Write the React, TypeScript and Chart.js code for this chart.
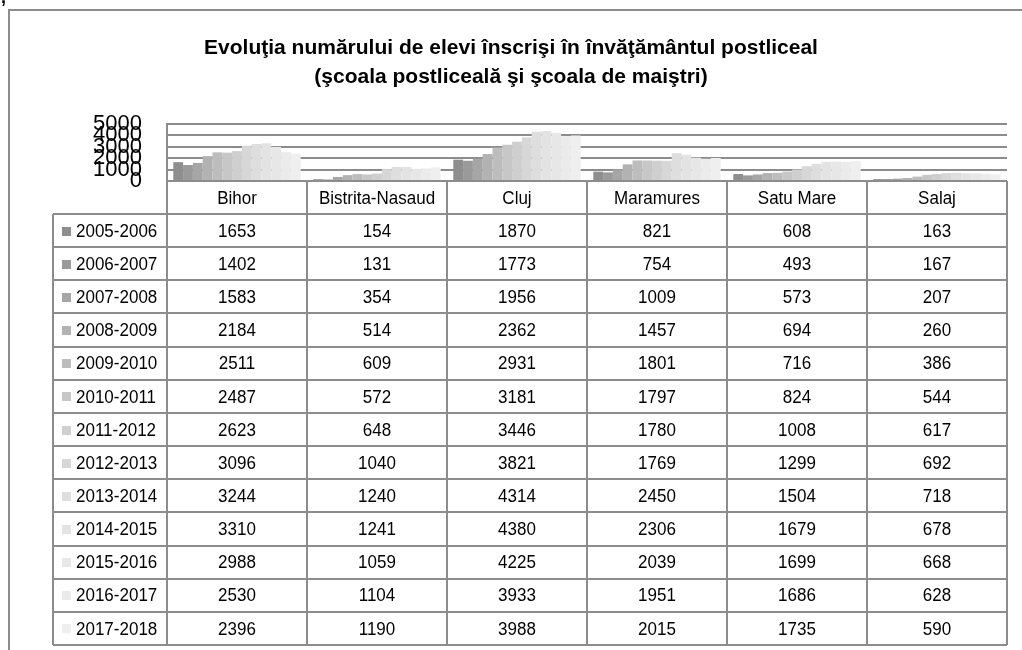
import React, { useEffect, useRef } from "react";
import { Chart, registerables } from "chart.js";

Chart.register(...registerables);

const categories = ["Bihor", "Bistrita-Nasaud", "Cluj", "Maramures", "Satu Mare", "Salaj"];
const years = [
  "2005-2006", "2006-2007", "2007-2008", "2008-2009", "2009-2010", "2010-2011",
  "2011-2012", "2012-2013", "2013-2014", "2014-2015", "2015-2016", "2016-2017", "2017-2018",
];

const v2005 = [1653, 154, 1870, 821, 608, 163];
const v2006 = [1402, 131, 1773, 754, 493, 167];
const v2007 = [1583, 354, 1956, 1009, 573, 207];
const v2008 = [2184, 514, 2362, 1457, 694, 260];
const v2009 = [2511, 609, 2931, 1801, 716, 386];
const v2010 = [2487, 572, 3181, 1797, 824, 544];
const v2011 = [2623, 648, 3446, 1780, 1008, 617];
const v2012 = [3096, 1040, 3821, 1769, 1299, 692];
const v2013 = [3244, 1240, 4314, 2450, 1504, 718];
const v2014 = [3310, 1241, 4380, 2306, 1679, 678];
const v2015 = [2988, 1059, 4225, 2039, 1699, 668];
const v2016 = [2530, 1104, 3933, 1951, 1686, 628];
const v2017 = [2396, 1190, 3988, 2015, 1735, 590];

const seriesValues = [v2005, v2006, v2007, v2008, v2009, v2010, v2011, v2012, v2013, v2014, v2015, v2016, v2017];

const yTickValues = [0, 1000, 2000, 3000, 4000, 5000];

const titleLines = [
  "Evoluţia numărului de elevi înscrişi în învăţământul postliceal",
  "(şcoala postliceală şi şcoala de maiştri)",
];

const seriesColors = [
  "#8e8e8e", "#9a9a9a", "#a6a6a6", "#b2b2b2", "#bdbdbd", "#c7c7c7", "#cfcfcf",
  "#d7d7d7", "#dedede", "#e3e3e3", "#e7e7e7", "#ebebeb", "#efefef",
];

const FONT = '"Liberation Sans", Arial, sans-serif';
const LINE = "#8c8c8c";

function stretchedText(ctx: any, text: string, x: number, y: number, sy: number) {
  ctx.save();
  ctx.translate(x, y);
  ctx.scale(1, sy);
  ctx.fillText(text, 0, 0);
  ctx.restore();
}

const tablePlugin = {
  id: "dataTable",
  afterDraw(chart: any) {
    const { ctx, chartArea, scales } = chart;
    const xs = scales.x;
    const left = chartArea.left;
    const right = chartArea.right;
    const axisY = chartArea.bottom;
    const colW = (right - left) / categories.length;
    const tableLeft = 53;
    const rowTop = 214;
    const tableBottom = 645;
    const rowH = (tableBottom - rowTop) / years.length;

    ctx.save();
    // outer frame (partially visible)
    ctx.strokeStyle = LINE;
    ctx.lineWidth = 2;
    ctx.beginPath();
    ctx.moveTo(9, 650);
    ctx.lineTo(9, 10);
    ctx.lineTo(1022, 10);
    ctx.stroke();

    // comma at top-left
    ctx.fillStyle = "#000";
    ctx.font = "bold 18px " + FONT;
    ctx.textAlign = "left";
    ctx.textBaseline = "alphabetic";
    ctx.fillText(",", 1, 3);

    // table lines
    ctx.strokeStyle = LINE;
    ctx.lineWidth = 2;
    ctx.beginPath();
    for (let i = 0; i <= categories.length; i++) {
      const x = Math.round(left + i * colW);
      ctx.moveTo(x, axisY);
      ctx.lineTo(x, tableBottom);
    }
    ctx.moveTo(tableLeft, rowTop);
    ctx.lineTo(tableLeft, tableBottom);
    for (let r = 0; r <= years.length; r++) {
      const y = Math.round(rowTop + r * rowH);
      ctx.moveTo(tableLeft, y);
      ctx.lineTo(right, y);
    }
    ctx.stroke();

    // header
    ctx.fillStyle = "#000";
    ctx.font = "17px " + FONT;
    ctx.textAlign = "center";
    ctx.textBaseline = "middle";
    categories.forEach((c, i) => {
      stretchedText(ctx, c, xs.getPixelForValue(i), (axisY + rowTop) / 2 + 1, 1.1);
    });

    // rows
    years.forEach((yr, r) => {
      const cy = rowTop + (r + 0.5) * rowH + 1;
      ctx.fillStyle = seriesColors[r];
      ctx.fillRect(62, Math.round(cy - 5), 9, 9);
      ctx.fillStyle = "#000";
      ctx.textAlign = "left";
      stretchedText(ctx, yr, 76, cy, 1.1);
      ctx.textAlign = "center";
      seriesValues[r].forEach((v, i) => {
        stretchedText(ctx, String(v), xs.getPixelForValue(i), cy, 1.1);
      });
    });
    ctx.restore();
  },
};

export default function App() {
  const ref = useRef<HTMLCanvasElement | null>(null);
  useEffect(() => {
    if (!ref.current) return;
    const chart = new Chart(ref.current, {
      type: "bar",
      data: {
        labels: categories,
        datasets: years.map((y, i) => ({
          label: y,
          data: seriesValues[i],
          backgroundColor: seriesColors[i],
          borderWidth: 0,
          categoryPercentage: 0.91,
          barPercentage: 1.0,
        })),
      },
      options: {
        animation: false,
        responsive: false,
        devicePixelRatio: 1,
        layout: { padding: { left: 15, right: 15, top: 2, bottom: 469 } },
        plugins: {
          legend: { display: false },
          tooltip: { enabled: false },
          title: {
            display: true,
            text: titleLines,
            color: "#000",
            font: { family: FONT, size: 21, weight: "bold", lineHeight: 1.38 },
            padding: { top: 32, bottom: 32 },
          },
        },
        scales: {
          x: { display: false },
          y: {
            min: 0,
            max: 5000,
            afterFit: (s: any) => {
              s.width = 152;
            },
            afterBuildTicks: (s: any) => {
              s.ticks = yTickValues.map((v) => ({ value: v }));
            },
            grid: { color: LINE, lineWidth: 2, drawTicks: false },
            border: { display: true, color: LINE, width: 2 },
            ticks: {
              autoSkip: false,
              padding: 25,
              color: "#000",
              font: { family: FONT, size: 22 },
              callback: (v: any) => String(v),
            },
          },
        },
      },
      plugins: [tablePlugin],
    });
    return () => chart.destroy();
  }, []);
  return (
    <canvas
      ref={ref}
      width={1022}
      height={650}
      style={{ position: "absolute", left: 0, top: 0, display: "block" }}
    />
  );
}
